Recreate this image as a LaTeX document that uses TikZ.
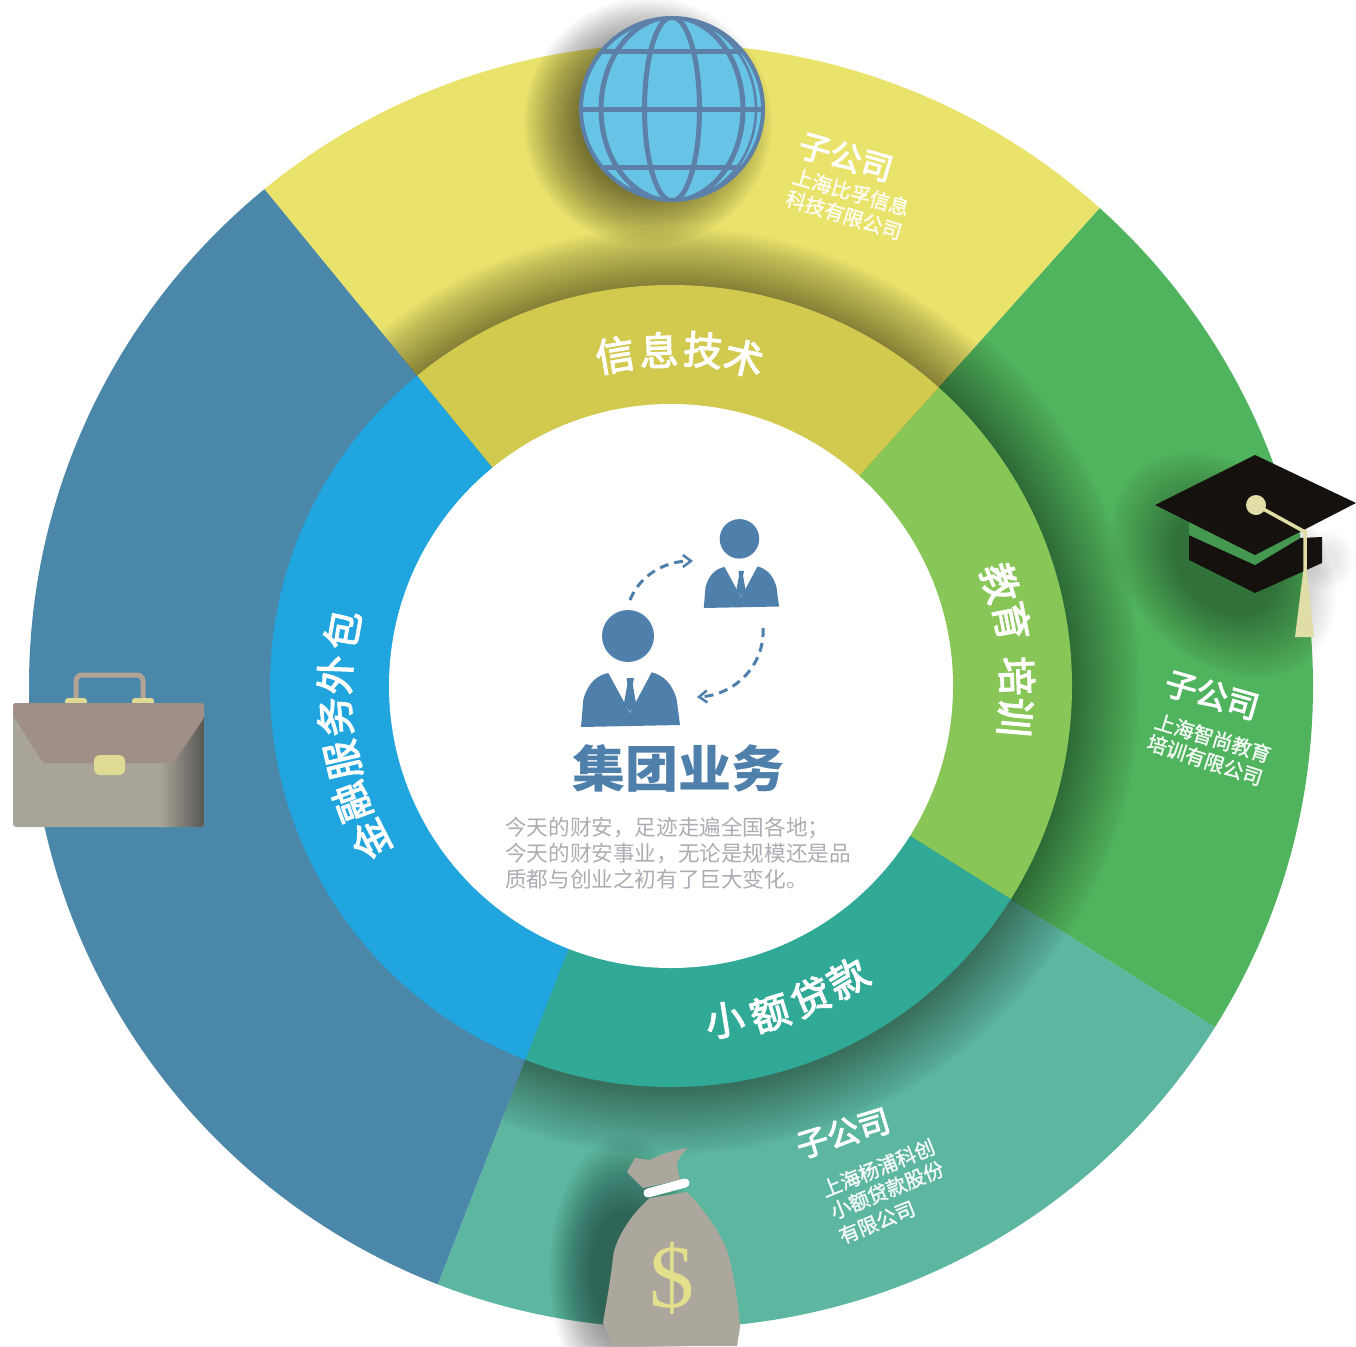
\documentclass[tikz,border=0pt]{standalone}
\usepackage{fontspec}
\setmainfont{Liberation Serif}
\newfontfamily\cjk{Noto Sans CJK SC}
\newfontfamily\cjkring{Noto Sans CJK SC}[FakeBold=3]
\newfontfamily\cjksmall{Noto Sans CJK SC}[FakeBold=1.6]
\usetikzlibrary{arrows.meta}
\definecolor{oyellow}{HTML}{E9E26B}
\definecolor{ogreen}{HTML}{50B35E}
\definecolor{oteal}{HTML}{5DB69F}
\definecolor{oblue}{HTML}{4A87A8}
\definecolor{myellow}{HTML}{D2C94F}
\definecolor{mgreen}{HTML}{88C757}
\definecolor{mteal}{HTML}{30A996}
\definecolor{mblue}{HTML}{20A5DF}
\definecolor{icon}{HTML}{4F7FAB}
\definecolor{globefill}{HTML}{67C4E6}
\definecolor{globeline}{HTML}{5C80A8}
\definecolor{capblack}{HTML}{15110F}
\definecolor{cream}{HTML}{E0DDA6}
\definecolor{sack}{HTML}{ACA79D}
\definecolor{dollar}{HTML}{E2DF8D}
\definecolor{casebody}{HTML}{A8A498}
\definecolor{caseflap}{HTML}{A08F86}
\definecolor{casehandle}{HTML}{B3A595}
\definecolor{clasp}{HTML}{DEDC94}
\definecolor{para}{HTML}{AAADB2}
\tikzset{
  ringch/.style={inner sep=0pt,text=white,font=\cjkring\fontsize{39}{39}\selectfont},
  headch/.style={inner sep=0pt,text=white,font=\cjkring\fontsize{32}{32}\selectfont},
  subch/.style={inner sep=0pt,text=white,opacity=.9,font=\cjksmall\fontsize{20}{20}\selectfont},
  paraline/.style={inner sep=0pt,anchor=west,text=para,font=\cjk\fontsize{21.6}{21.6}\selectfont},
  titletext/.style={inner sep=0pt,text=icon,xscale=1.06,font=\cjk\bfseries\fontsize{50}{50}\selectfont},
  flowline/.style={draw=icon,line width=3,dash pattern=on 9pt off 6pt,-{Straight Barb[length=8pt,width=12pt,line width=2.5pt]}},
}
% wedge clip between two angles (clockwise from east, y pointing down)
\newcommand{\wedgeclip}[2]{\clip (C) -- +(#1:2000) -- +({#1+(#2-#1)/3}:2000) -- +({#1+2*(#2-#1)/3}:2000) -- +(#2:2000) -- cycle;}
% one ring sector
\newcommand{\sector}[4]{\begin{scope}\wedgeclip{#1}{#2}\fill[#4] (C) circle (#3);\end{scope}}
% concentric soft shadow: centre x, centre y, x radius max, y radius max, steps, opacity, rotation
\newcommand{\softblob}[7]{\begin{scope}[shift={(#1,#2)},rotate=#7]
  \foreach \i in {0,...,#5}{\fill[black,fill opacity=#6] (0,0) ellipse [x radius={#3*(1-0.55*\i/#5)},y radius={#4*(1-0.55*\i/#5)}];}
\end{scope}}
% person icon
\newcommand{\person}[3]{\begin{scope}[shift={(#1,#2)},scale=#3]
  \fill[icon] (-2,-91) circle (26);
  \fill[icon] (-49,0) -- (-46.7,-27.3) .. controls (-42,-45) and (-32,-52) .. (-21.7,-54) -- (0,-14) -- (21.7,-54.7) .. controls (32,-52) and (42,-45) .. (46.7,-27.3) -- (50,-2) -- cycle;
  \fill[icon] (-3.3,-49) -- (4,-49) -- (2.7,-42.3) -- (6,-24) -- (0,-15) -- (-6,-24) -- (-2.7,-42.3) -- cycle;
\end{scope}}
\begin{document}
\begin{tikzpicture}[x=1pt,y=1pt,yscale=-1]
\useasboundingbox (0,0) rectangle (1356,1346);
\clip (0,0) rectangle (1356,1346);
\fill[white] (0,0) rectangle (1356,1346);
\coordinate (C) at (671,686);

% outer sectors with the ring's shadow
\sector{-129.3}{-48.1}{642}{oyellow}
\sector{-48.1}{32.1}{642}{ogreen}
\sector{32.1}{111.3}{642}{oteal}
\sector{111.3}{230.7}{642}{oblue}
\begin{scope}
  \wedgeclip{-129.3}{-48.1}
  \foreach \r in {401,403,...,459}{\fill[black,fill opacity=.017] (C) circle (\r);}
\end{scope}
\begin{scope}
  \wedgeclip{-48.1}{32.1}
  \foreach \r in {401,403,...,469}{\fill[black,fill opacity=.012] (C) circle (\r);}
\end{scope}
\begin{scope}
  \wedgeclip{32.1}{111.3}
  \foreach \r in {401,403,...,465}{\fill[black,fill opacity=.013] ([shift={(0,4)}]C) circle (\r);}
\end{scope}

% middle ring
\sector{-129.3}{-48.1}{401}{myellow}
\sector{-48.1}{32.1}{401}{mgreen}
\sector{32.1}{111.3}{401}{mteal}
\sector{111.3}{230.7}{401}{mblue}
\fill[white] (C) circle (282);

% ring labels
\foreach \n/\x/\y/\r/\t in {a/615/355/9.6/信,b/659/350/2/息,c/703/350/-5/技,d/744/358/-12.5/术}{\node[ringch,rotate=\r] (info\n) at (\x,\y) {\t};}
\foreach \n/\x/\y/\r/\t in {a/1000/583/-73/教,b/1012/621/-79/育,c/1017/676/-88/培,d/1015/717/-95/训}{\node[ringch,rotate=\r] (edu\n) at (\x,\y) {\t};}
\foreach \n/\x/\y/\r/\t in {a/725/1020/9/小,b/770/1013/17/额,c/811/997/24/贷,d/848/978/31/款}{\node[ringch,rotate=\r] (loan\n) at (\x,\y) {\t};}
\foreach \n/\x/\y/\r/\t in {a/370/840/117/金,b/352/802/110/融,c/343/760/103/服,d/335/717/95/务,e/335/675/88/外,f/342/630/80/包}{\node[ringch,rotate=\r] (fin\n) at (\x,\y) {\t};}

% sub labels
\node[headch,rotate=-16] (hy) at (846,157) {子公司};
\node[subch,rotate=-16] (sy1) at (851,192) {上海比孚信息};
\node[subch,rotate=-17] (sy2) at (844,215) {科技有限公司};
\node[headch,rotate=-16] (hg) at (1212,695) {子公司};
\node[subch,rotate=-17] (sg1) at (1213,738) {上海智尚教育};
\node[subch,rotate=-18] (sg2) at (1205,760) {培训有限公司};
\node[headch,rotate=17] (ht) at (843,1133) {子公司};
\node[subch,rotate=22] (st1) at (878,1168) {上海杨浦科创};
\node[subch,rotate=22] (st2) at (887,1190) {小额贷款股份};
\node[subch,rotate=22] (st3) at (877,1222) {有限公司};

% centre
\person{630}{727}{1}
\person{741}{608}{.76}
\coordinate (fa) at (630,600);
\coordinate (fb) at (693,561);
\coordinate (fc) at (763,628);
\coordinate (fd) at (697,697);
\draw[flowline] (fa) .. controls (640,575) and (665,561) .. (fb);
\draw[flowline] (fc) .. controls (765,665) and (735,695) .. (fd);
\node[titletext] (title) at (678,768) {集团业务};
\node[paraline] (p1) at (505,828) {今天的财安，足迹走遍全国各地；};
\node[paraline] (p2) at (505,853) {今天的财安事业，无论是规模还是品};
\node[paraline] (p3) at (505,879) {质都与创业之初有了巨大变化。};

% globe
\softblob{648}{122}{124}{124}{30}{.022}{0}
\begin{scope}
  \clip (672,109) circle (92);
  \fill[globefill] (672,109) circle (92);
  \draw[globeline,line width=5] (580,52) -- (764,52) (580,109) -- (764,109) (580,167) -- (764,167);
  \draw[globeline,line width=5] (672,109) ellipse [x radius=27.5,y radius=92];
  \draw[globeline,line width=5] (672,109) ellipse [x radius=71,y radius=92];
  \begin{scope}
    \clip (672,0) rectangle (780,220);
    \draw[globeline,line width=2.5] (672,109) ellipse [x radius=84,y radius=92];
  \end{scope}
\end{scope}
\draw[globeline,line width=4] (672,109) circle (91);

% cap
\softblob{1224}{565}{128}{95}{30}{.012}{45}
\softblob{1325}{560}{30}{30}{10}{.008}{0}
\fill[capblack] (1189,535) -- (1255,565) -- (1300,538) -- (1322,537) -- (1322,563) -- (1255,593) -- (1189,560) -- cycle;
\fill[ogreen!85!black] (1189,521) -- (1255,555) -- (1300,530) -- (1300,538) -- (1255,565) -- (1189,535) -- cycle;
\fill[capblack] (1155,505) -- (1255,455) -- (1356,503) -- (1255,555) -- cycle;
\draw[cream,line width=3.5] (1256,505) -- (1305,532) -- (1305,580);
\fill[cream] (1256,505) circle (10);
\fill[cream] (1303,573) -- (1307,573) -- (1314,637) -- (1295,637) -- cycle;

% money bag
\softblob{625}{1272}{76}{136}{30}{.015}{0}
\fill[sack] (650,1198) .. controls (630,1215) and (615,1240) .. (613,1257) .. controls (610,1285) and (605,1310) .. (603,1323) -- (613,1346) -- (737,1346) -- (740,1327) .. controls (738,1300) and (733,1270) .. (727,1250) .. controls (718,1228) and (700,1205) .. (687,1192) -- cycle;
\fill[sack] (627,1172) -- (635,1158) -- (650,1160) .. controls (658,1155) and (675,1150) .. (687,1148) .. controls (682,1155) and (676,1160) .. (677,1167) -- (680,1180) -- (643,1188) -- cycle;
\draw[white,line width=9,line cap=round] (648,1193) -- (685,1183);
\node[inner sep=0pt,text=dollar,font=\fontsize{90}{90}\selectfont] (usd) at (672,1278) {\$};

% briefcase
\draw[casehandle,line width=5,rounded corners=6] (76,702) -- (76,675) -- (143,675) -- (143,702);
\fill[clasp,rounded corners=3] (65,698) rectangle (87,705);
\fill[clasp,rounded corners=3] (132,698) rectangle (154,705);
\fill[casebody,rounded corners=3] (13,703) rectangle (204,827);
\begin{scope}
  \clip[rounded corners=3] (13,703) rectangle (204,827);
  \shade[left color=casebody,right color=black!65!casebody!85!white] (160,703) rectangle (204,827);
\end{scope}
\fill[caseflap,rounded corners=3] (13,703) -- (204,703) -- (204,718) -- (173,763) -- (43,763) -- (13,715) -- cycle;
\fill[clasp,rounded corners=6] (94,755) rectangle (125,775);
\end{tikzpicture}
\end{document}
